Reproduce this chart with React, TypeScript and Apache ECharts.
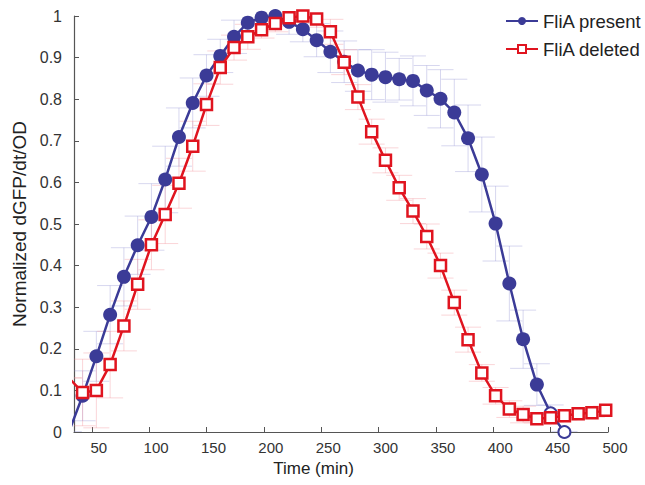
import React, { useEffect, useRef } from "react";
import * as echarts from "echarts";

const times = [30, 42, 54, 66, 78, 90, 102, 114, 126, 138, 150, 162, 174, 186, 198, 210, 222, 234, 246, 258, 270, 282, 294, 306, 318, 330, 342, 354, 366, 378, 390, 402, 414, 426, 438, 450, 462, 474, 486, 498];

const fliaPresent = [0.0, 0.087, 0.182, 0.282, 0.373, 0.449, 0.517, 0.607, 0.709, 0.791, 0.857, 0.904, 0.95, 0.984, 0.996, 1.0, 0.986, 0.968, 0.942, 0.914, 0.89, 0.869, 0.859, 0.853, 0.848, 0.844, 0.821, 0.801, 0.768, 0.706, 0.619, 0.501, 0.357, 0.223, 0.114, 0.045, 0.0];
const presentErr = [0, 0.06, 0.06, 0.07, 0.07, 0.07, 0.08, 0.08, 0.07, 0.06, 0.05, 0.04, 0.04, 0.03, 0.02, 0.02, 0.03, 0.03, 0.04, 0.05, 0.05, 0.05, 0.06, 0.06, 0.05, 0.06, 0.06, 0.07, 0.08, 0.08, 0.09, 0.09, 0.09, 0.07, 0.05, 0.02, 0];
const presentHollow = [false, false, false, false, false, false, false, false, false, false, false, false, false, false, false, false, false, false, false, false, false, false, false, false, false, false, false, false, false, false, false, false, false, false, false, true, true];

const fliaDeleted = [0.13, 0.095, 0.1, 0.162, 0.255, 0.355, 0.45, 0.523, 0.598, 0.687, 0.787, 0.876, 0.924, 0.95, 0.967, 0.982, 0.996, 1.0, 0.993, 0.962, 0.889, 0.805, 0.722, 0.653, 0.587, 0.531, 0.47, 0.4, 0.311, 0.222, 0.142, 0.087, 0.055, 0.042, 0.032, 0.034, 0.039, 0.044, 0.046, 0.052];
const deletedErr = [0, 0.08, 0.09, 0.08, 0.06, 0.06, 0.06, 0.07, 0.06, 0.06, 0.05, 0.04, 0.03, 0.03, 0.02, 0.02, 0.02, 0.01, 0.02, 0.03, 0.03, 0.03, 0.03, 0.03, 0.03, 0.03, 0.03, 0.03, 0.03, 0.03, 0.02, 0.02, 0.02, 0.02, 0.01, 0.01, 0.01, 0.01, 0.01, 0.01];

const xTicks = [50, 100, 150, 200, 250, 300, 350, 400, 450, 500];
const seriesNames = ["FliA present", "FliA deleted"];

const BLUE = "#3b3b97";
const RED = "#e0141f";
const FONT = "Liberation Sans, Arial, sans-serif";

function errorBarSeries(values: number[], errs: number[], color: string) {
  const data = values.map((v, i) => [times[i], v - errs[i], v + errs[i]]);
  return {
    type: "custom",
    silent: true,
    clip: true,
    z: 1,
    data,
    renderItem: (params: any, api: any) => {
      const t = api.value(0);
      const lo = api.coord([t, api.value(1)]);
      const hi = api.coord([t, api.value(2)]);
      const cap = 13;
      const style = { stroke: color, lineWidth: 1, opacity: 0.35 };
      return {
        type: "group",
        children: [
          { type: "line", shape: { x1: hi[0], y1: hi[1], x2: lo[0], y2: lo[1] }, style },
          { type: "line", shape: { x1: hi[0] - cap, y1: hi[1], x2: hi[0] + cap, y2: hi[1] }, style },
          { type: "line", shape: { x1: lo[0] - cap, y1: lo[1], x2: lo[0] + cap, y2: lo[1] }, style },
        ],
      };
    },
  };
}

export default function App() {
  const ref = useRef<HTMLDivElement>(null);
  useEffect(() => {
    if (!ref.current) return;
    const chart = echarts.init(ref.current, null, { renderer: "svg" });
    const presentData = fliaPresent.map((v, i) =>
      presentHollow[i]
        ? { value: [times[i], v], itemStyle: { color: "#ffffff", borderColor: BLUE, borderWidth: 2 }, symbolSize: 12 }
        : { value: [times[i], v] }
    );
    const deletedData = fliaDeleted.map((v, i) => [times[i], v]);
    chart.setOption({
      animation: false,
      backgroundColor: "#ffffff",
      textStyle: { fontFamily: FONT },
      grid: { left: 74, right: 37, top: 16, bottom: 53, containLabel: false },
      legend: {
        orient: "vertical",
        left: 500,
        top: 5,
        itemWidth: 32,
        itemHeight: 10,
        itemGap: 6,
        data: seriesNames,
        textStyle: { fontSize: 18.5, color: "#222", fontFamily: FONT, lineHeight: 22 },
      },
      xAxis: {
        type: "value",
        min: 34.5,
        max: 500,
        name: "Time (min)",
        nameLocation: "middle",
        nameGap: 22,
        nameTextStyle: { fontSize: 17, color: "#222", fontFamily: FONT, padding: [0, 55, 0, 0] },
        axisLine: { show: true, lineStyle: { color: "#555", width: 1.2 } },
        axisTick: { show: true, inside: true, length: 5, customValues: xTicks, lineStyle: { color: "#555" } },
        axisLabel: { customValues: xTicks, fontSize: 15, color: "#333", margin: 8, padding: [0, 0, 0, 14], fontFamily: FONT },
        splitLine: { show: false },
      },
      yAxis: {
        type: "value",
        min: 0,
        max: 1,
        interval: 0.1,
        name: "Normalized dGFP/dt/OD",
        nameLocation: "middle",
        nameGap: 44,
        nameTextStyle: { fontSize: 19, color: "#222", fontFamily: FONT },
        axisLine: { show: true, lineStyle: { color: "#555", width: 1.2 } },
        axisTick: { show: true, inside: true, length: 5, lineStyle: { color: "#555" } },
        axisLabel: { fontSize: 16, color: "#333", margin: 12, fontFamily: FONT },
        splitLine: { show: false },
      },
      series: [
        errorBarSeries(fliaPresent, presentErr, "#8c8cd0"),
        errorBarSeries(fliaDeleted, deletedErr, "#f08890"),
        {
          name: seriesNames[0],
          type: "line",
          data: presentData,
          symbol: "circle",
          symbolSize: 14,
          showAllSymbol: true,
          z: 2,
          lineStyle: { color: BLUE, width: 2.5 },
          itemStyle: { color: BLUE, borderWidth: 0 },
        },
        {
          name: seriesNames[1],
          type: "line",
          data: deletedData,
          symbol: "rect",
          symbolSize: 11,
          showAllSymbol: true,
          z: 3,
          lineStyle: { color: RED, width: 2.5 },
          itemStyle: { color: "#ffffff", borderColor: RED, borderWidth: 2.5 },
        },
      ],
    });
    return () => chart.dispose();
  }, []);
  return <div ref={ref} style={{ position: "fixed", left: 0, top: 0, width: 645, height: 485 }} />;
}
